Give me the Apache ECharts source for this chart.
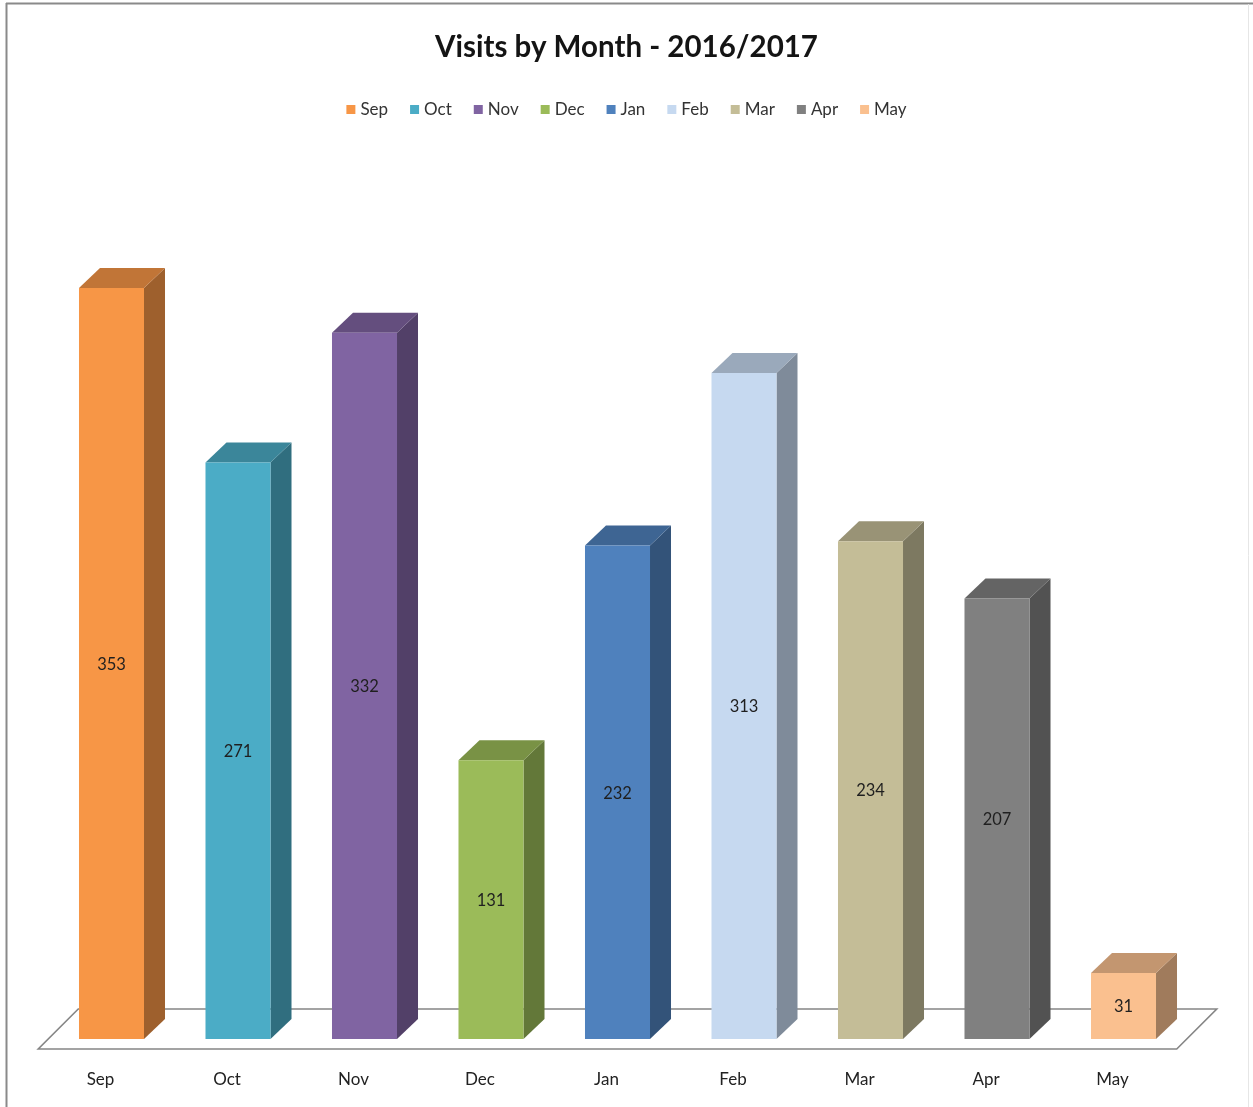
<!DOCTYPE html>
<html>
<head>
<meta charset="utf-8">
<script src="https://cdn.jsdelivr.net/npm/echarts@6/dist/echarts.min.js"></script>
<style>
  html, body { margin: 0; padding: 0; background: #ffffff; }
  #chart { width: 1253px; height: 1107px; }
</style>
</head>
<body>
<div id="chart"></div>
<script>
// Monthly visits, school year 2016/2017
const months = ['Sep', 'Oct', 'Nov', 'Dec', 'Jan', 'Feb', 'Mar', 'Apr', 'May'];
const visits = [353, 271, 332, 131, 232, 313, 234, 207, 31];
const colors = ['#F79646', '#4BACC6', '#8064A2', '#9BBB59', '#4F81BD', '#C6D9F0', '#C4BD97', '#808080', '#FAC08F'];

const FONT = 'Lato, "Open Sans", sans-serif';
const DEPTH_X = 21, DEPTH_Y = 20;   // oblique depth of each bar
const BAR_RATIO = 0.514;           // front face width relative to the category band

function shade(hex, k) {
  const n = parseInt(hex.slice(1), 16);
  const r = Math.round(((n >> 16) & 255) * k);
  const g = Math.round(((n >> 8) & 255) * k);
  const b = Math.round((n & 255) * k);
  return 'rgb(' + r + ',' + g + ',' + b + ')';
}

// Pseudo-3D column: front face, right side and top
function renderBar(color) {
  return function (params, api) {
    const i = api.value(0), v = api.value(1);
    const base = api.coord([i, 0]);
    const top = api.coord([i, v]);
    const w = api.size([1, 0])[0] * BAR_RATIO;
    const x0 = base[0] - w / 2, x1 = base[0] + w / 2;
    const yb = base[1], yt = top[1];
    return {
      type: 'group',
      children: [
        { type: 'polygon', shape: { points: [[x1, yb], [x1 + DEPTH_X, yb - DEPTH_Y], [x1 + DEPTH_X, yt - DEPTH_Y], [x1, yt]] },
          style: { fill: shade(color, 0.64) } },
        { type: 'polygon', shape: { points: [[x0, yt], [x0 + DEPTH_X, yt - DEPTH_Y], [x1 + DEPTH_X, yt - DEPTH_Y], [x1, yt]] },
          style: { fill: shade(color, 0.78) } },
        { type: 'rect', shape: { x: x0, y: yt, width: w, height: yb - yt },
          style: { fill: color } },
        { type: 'text', x: base[0], y: (yt + yb) / 2 + 1,
          style: { text: String(v), fill: '#1f1f1f', font: '16.5px ' + FONT, align: 'center', verticalAlign: 'middle' } }
      ]
    };
  };
}

// Floor plane under the columns
function renderFloor(params, api) {
  const cs = params.coordSys;
  const y0 = api.coord([0, 0])[1];
  const L = cs.x, R = cs.x + cs.width;
  return {
    type: 'polygon',
    shape: { points: [[L - 10, y0 + 10], [R - 10, y0 + 10], [R + 30, y0 - 30], [L + 30, y0 - 30]] },
    style: { fill: '#ffffff', stroke: '#858585', lineWidth: 1.6 }
  };
}

const series = [{
  name: '__floor',
  type: 'custom',
  renderItem: renderFloor,
  data: [[0, 0]],
  encode: { x: 0, y: 1 },
  silent: true,
  z: 1
}];
months.forEach(function (m, i) {
  series.push({
    name: m,
    type: 'custom',
    renderItem: renderBar(colors[i]),
    itemStyle: { color: colors[i] },
    data: [[i, visits[i]]],
    encode: { x: 0, y: 1 },
    z: 2
  });
});

const chart = echarts.init(document.getElementById('chart'), null, { renderer: 'canvas' });
chart.setOption({
  backgroundColor: '#ffffff',
  animation: false,
  title: {
    text: 'Visits by Month - 2016/2017',
    left: 'center',
    top: 27,
    textStyle: { fontFamily: FONT, fontSize: 29.5, fontWeight: 'bold', color: '#141414' }
  },
  legend: {
    data: months,
    top: 96,
    left: 'center',
    icon: 'rect',
    itemWidth: 9,
    itemHeight: 9,
    itemGap: 22,
    textStyle: { fontFamily: FONT, fontSize: 17, color: '#333333' }
  },
  grid: { left: 48.25, right: 66.25, top: 188, bottom: 68 },
  xAxis: {
    type: 'category',
    data: months,
    axisLine: { show: false },
    axisTick: { show: false },
    axisLabel: { margin: 32, fontFamily: FONT, fontSize: 17, color: '#222222', padding: [0, 22, 0, 0] }
  },
  yAxis: { type: 'value', min: 0, max: 400, show: false, splitLine: { show: false } },
  graphic: [
    { type: 'line', shape: { x1: 6, y1: 3.5, x2: 1253, y2: 3.5 }, style: { stroke: '#8a8a8a', lineWidth: 2 } },
    { type: 'line', shape: { x1: 6.5, y1: 3, x2: 6.5, y2: 1107 }, style: { stroke: '#8a8a8a', lineWidth: 2 } },
    { type: 'line', shape: { x1: 1248.5, y1: 4, x2: 1248.5, y2: 1107 }, style: { stroke: '#e6e6e6', lineWidth: 1 } }
  ],
  series: series
});
</script>
</body>
</html>
